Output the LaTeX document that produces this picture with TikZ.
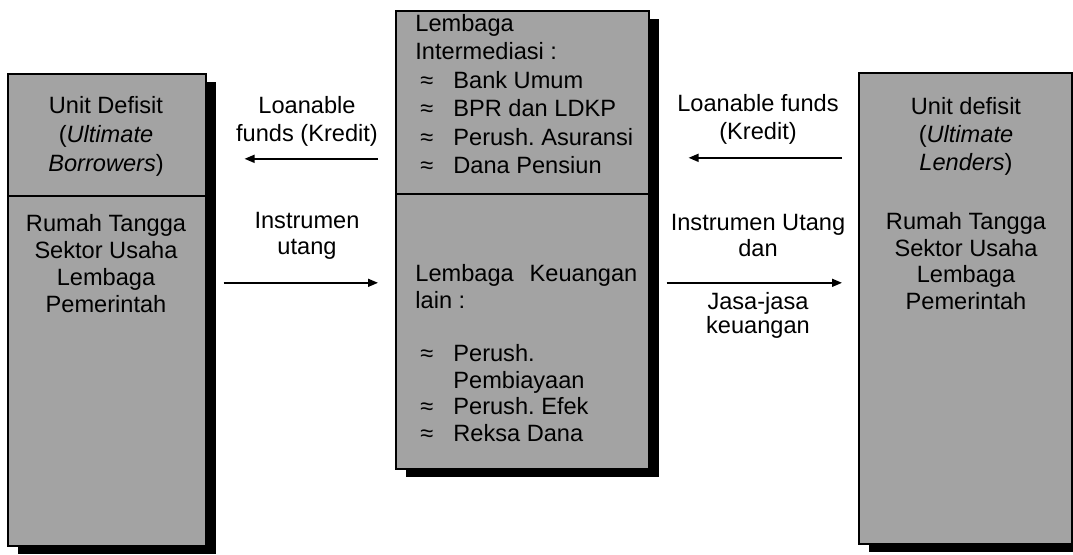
\documentclass[tikz,border=0pt]{standalone}
\usepackage{fontspec}
\setmainfont{Liberation Sans}
\usetikzlibrary{positioning, arrows.meta, shadows}
\definecolor{stipple}{gray}{0.64}
\newcommand{\apxitem}{\hspace*{2.5pt}\makebox[16.5pt][l]{≈}}
\frenchspacing

\begin{document}
\begin{tikzpicture}[
    x=0.5pt, y=-0.5pt,
    cell/.style={draw, line width=0.8pt, fill=stipple, inner sep=0pt, anchor=north west,
      drop shadow={shadow xshift=5pt, shadow yshift=-4pt, fill=black, opacity=1}},
    txt/.style={align=center, inner sep=0pt, font=\fontsize{11.8pt}{14pt}\selectfont},
    list/.style={align=left, inner sep=0pt, anchor=west},
    arr/.style={-{Triangle[length=5pt, width=4pt]}, line width=0.8pt}
  ]
  \useasboundingbox (0,0) rectangle (1073,554);

  % boxes
  \node[cell, minimum width=99pt, minimum height=61pt] (lefttop) at (7,73) {};
  \node[cell, minimum width=99pt, minimum height=175pt] (leftbot) at (7,195) {};
  \node[cell, minimum width=126.5pt, minimum height=91.5pt] (midtop) at (395,10) {};
  \node[cell, minimum width=126.5pt, minimum height=137.5pt] (midbot) at (395,193) {};
  \node[cell, minimum width=106.5pt, minimum height=235.5pt] (rightbox) at (858,72) {};

  % box texts
  \node[txt, font=\fontsize{11.8pt}{14.5pt}\selectfont] (borrowers) at (106,136) {Unit Defisit\\(\textit{Ultimate}\\\textit{Borrowers})};
  \node[txt, font=\fontsize{11.8pt}{13.5pt}\selectfont] (leftunits) at (106,264) {Rumah Tangga\\Sektor Usaha\\Lembaga\\Pemerintah};
  \node[list, font=\fontsize{11.8pt}{14.2pt}\selectfont] (banks) at (415,94) {Lembaga\\Intermediasi :\\\apxitem Bank Umum\\\apxitem BPR dan LDKP\\\apxitem Perush. Asuransi\\\apxitem Dana Pensiun};
  \node[list, font=\fontsize{11.8pt}{13.3pt}\selectfont] (others) at (415,353) {\makebox[111pt][s]{Lembaga Keuangan}\\lain :\\[13.3pt]\apxitem Perush.\\\hspace*{19pt}Pembiayaan\\\apxitem Perush. Efek\\\apxitem Reksa Dana};
  \node[txt, font=\fontsize{11.8pt}{14pt}\selectfont] (lenders) at (966,136) {Unit defisit\\(\textit{Ultimate}\\\textit{Lenders})};
  \node[txt, font=\fontsize{11.8pt}{13.2pt}\selectfont] (rightunits) at (966,261) {Rumah Tangga\\Sektor Usaha\\Lembaga\\Pemerintah};

  % flow labels
  \node[txt] (kreditL) at (307,121) {Loanable\\funds (Kredit)};
  \node[txt, font=\fontsize{11.8pt}{13pt}\selectfont] (utangL) at (307,236) {Instrumen\\utang};
  \node[txt] (kreditR) at (758,119) {Loanable funds\\(Kredit)};
  \node[txt, font=\fontsize{11.8pt}{13pt}\selectfont] (utangR) at (758,235) {Instrumen Utang\\dan};
  \node[txt, font=\fontsize{11.8pt}{12pt}\selectfont] (jasa) at (758,315) {Jasa-jasa\\keuangan};

  % flows
  \draw[arr, shorten <=8.5pt, shorten >=19pt] ([yshift=-28.25pt]midtop.west) -- ([yshift=-28.25pt]midtop.west -| lefttop.east);
  \draw[arr, shorten <=8.5pt, shorten >=8.5pt] ([yshift=44pt]leftbot.east) -- ([yshift=44pt]leftbot.east -| midbot.west);
  \draw[arr, shorten <=8pt, shorten >=19.5pt] ([yshift=75.25pt]rightbox.west) -- ([yshift=75.25pt]rightbox.west -| midtop.east);
  \draw[arr, shorten <=8.5pt, shorten >=8pt] ([yshift=24.25pt]midbot.east) -- ([yshift=24.25pt]midbot.east -| rightbox.west);
\end{tikzpicture}
\end{document}
